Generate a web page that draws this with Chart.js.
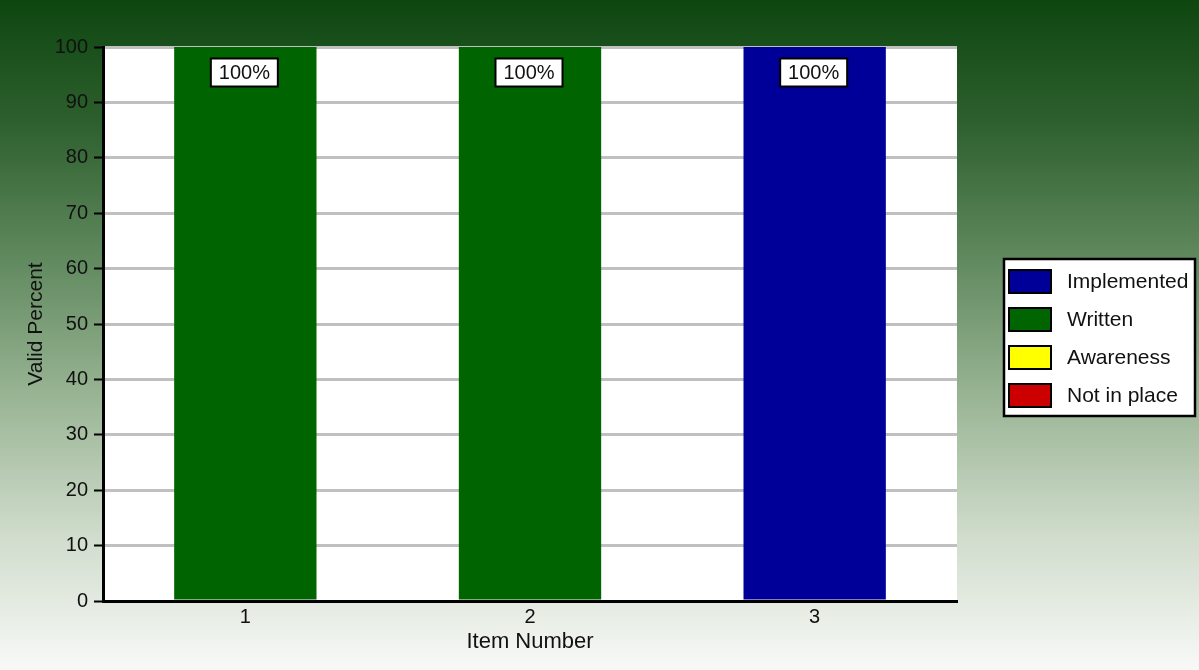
<!DOCTYPE html>
<html>
<head>
<meta charset="utf-8">
<script src="https://cdn.jsdelivr.net/npm/chart.js@4/dist/chart.umd.min.js"></script>
<style>
html,body{margin:0;padding:0;}
#wrap{width:1199px;height:670px;position:relative;}
</style>
</head>
<body>
<div id="wrap"><canvas id="c" width="1199" height="670"></canvas></div>
<script>
const categories = ['1', '2', '3'];
const seriesNames = ['Implemented', 'Written', 'Awareness', 'Not in place'];
const implemented = [0, 0, 100];
const written = [100, 100, 0];
const awareness = [0, 0, 0];
const notInPlace = [0, 0, 0];
const seriesColors = ['#000099', '#006400', '#ffff00', '#cc0000'];
const yTicks = [0, 10, 20, 30, 40, 50, 60, 70, 80, 90, 100];

const FONT = "'Liberation Sans', Arial, sans-serif";

const bgPlugin = {
  id: 'bg',
  beforeDraw(chart) {
    const ctx = chart.ctx;
    const h = chart.height, w = chart.width;
    const g = ctx.createLinearGradient(0, 0, 0, h);
    g.addColorStop(0, 'rgb(14,70,16)');
    g.addColorStop(0.18, 'rgb(45,95,45)');
    g.addColorStop(0.4, 'rgb(100,140,98)');
    g.addColorStop(0.6, 'rgb(155,182,150)');
    g.addColorStop(0.8, 'rgb(208,220,204)');
    g.addColorStop(1, 'rgb(248,249,247)');
    ctx.save();
    ctx.fillStyle = g;
    ctx.fillRect(0, 0, w, h);
    const a = chart.chartArea;
    ctx.fillStyle = '#ffffff';
    ctx.fillRect(a.left, a.top, a.right - a.left, a.bottom - a.top);
    ctx.restore();
  }
};

const labelPlugin = {
  id: 'boxLabels',
  afterDatasetsDraw(chart) {
    const ctx = chart.ctx;
    ctx.save();
    ctx.font = '20px ' + FONT;
    ctx.textAlign = 'center';
    ctx.textBaseline = 'middle';
    chart.data.datasets.forEach((ds, di) => {
      const meta = chart.getDatasetMeta(di);
      meta.data.forEach((bar, i) => {
        const v = ds.data[i];
        if (!v) return;
        const txt = v + '%';
        const cx = bar.x - 1;
        const cy = bar.y + 25.5;
        const bw = 67, bh = 28;
        ctx.fillStyle = '#ffffff';
        ctx.fillRect(cx - bw / 2, cy - bh / 2, bw, bh);
        ctx.lineWidth = 2;
        ctx.strokeStyle = '#000000';
        ctx.strokeRect(cx - bw / 2, cy - bh / 2, bw, bh);
        ctx.fillStyle = '#111111';
        ctx.fillText(txt, cx, cy + 1);
      });
    });
    ctx.restore();
  }
};

const legendPlugin = {
  id: 'boxLegend',
  afterDraw(chart) {
    const ctx = chart.ctx;
    const x = 1004, y = 259, w = 191, h = 157;
    ctx.save();
    ctx.fillStyle = '#ffffff';
    ctx.fillRect(x, y, w, h);
    ctx.lineWidth = 2.5;
    ctx.strokeStyle = '#000000';
    ctx.strokeRect(x, y, w, h);
    ctx.font = '21px ' + FONT;
    ctx.textAlign = 'left';
    ctx.textBaseline = 'middle';
    chart.data.datasets.forEach((ds, i) => {
      const cy = 281.5 + i * 38;
      ctx.fillStyle = ds.backgroundColor;
      ctx.fillRect(1009, cy - 11.5, 42, 23);
      ctx.lineWidth = 2;
      ctx.strokeStyle = '#000000';
      ctx.strokeRect(1009, cy - 11.5, 42, 23);
      ctx.fillStyle = '#111111';
      ctx.fillText(ds.label, 1067, cy + 1);
    });
    ctx.restore();
  }
};

const seriesData = [implemented, written, awareness, notInPlace];

new Chart(document.getElementById('c'), {
  type: 'bar',
  data: {
    labels: categories,
    datasets: seriesNames.map((n, i) => ({
      label: n,
      data: seriesData[i],
      backgroundColor: seriesColors[i],
      borderWidth: 0,
      categoryPercentage: 1.0,
      barPercentage: 0.5
    }))
  },
  options: {
    responsive: false,
    animation: false,
    layout: { padding: { left: 0, top: 47, right: 242, bottom: 0 } },
    plugins: {
      legend: { display: false },
      tooltip: { enabled: false }
    },
    scales: {
      x: {
        stacked: true,
        grid: { display: false, drawTicks: false },
        border: { display: true, color: '#000000', width: 3 },
        ticks: { color: '#111111', font: { family: FONT, size: 20 }, padding: 4 },
        title: { display: true, text: 'Item Number', color: '#111111', font: { family: FONT, size: 22 }, padding: { top: 0, bottom: 15 } },
        afterFit(s) { s.height = 69; }
      },
      y: {
        stacked: true,
        min: 0,
        max: 100,
        afterBuildTicks(s) { s.ticks = yTicks.map(v => ({ value: v })); },
        grid: { color: '#c0c0c0', lineWidth: 3, tickColor: '#000000', tickWidth: 2, tickLength: 9, drawTicks: true },
        border: { display: true, color: '#000000', width: 3 },
        ticks: { color: '#111111', font: { family: FONT, size: 20 }, padding: 6 },
        title: { display: true, text: 'Valid Percent', color: '#111111', font: { family: FONT, size: 21 }, padding: { top: 24, bottom: 0 } },
        afterFit(s) { s.width = 103; }
      }
    }
  },
  plugins: [bgPlugin, labelPlugin, legendPlugin]
});
</script>
</body>
</html>
